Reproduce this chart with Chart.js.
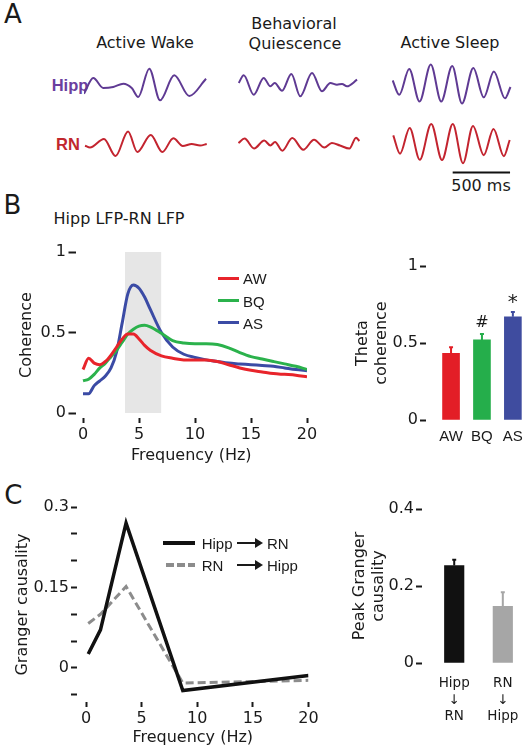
<!DOCTYPE html>
<html>
<head>
<meta charset="utf-8">
<title>Hipp - RN coherence and Granger causality</title>
<script src="https://cdn.jsdelivr.net/npm/chart.js@4.4.1/dist/chart.umd.min.js"></script>
<style>
  html, body { margin: 0; background: #fff; }
  #fig { position: relative; width: 524px; height: 750px; overflow: hidden;
         font-family: "DejaVu Sans", sans-serif; font-size: 16px; color: #1a1a1a; }
  #fig canvas { position: absolute; }
  .c, .l { position: absolute; line-height: 1; white-space: nowrap; }
  .c { transform: translate(-50%, -50%); }
  .l { transform: translate(0, -50%); font-family: "Liberation Sans", Arial, sans-serif; font-size: 15px; }
  .panel { font-size: 26px; }
  .row { font-family: "Liberation Sans", Arial, sans-serif; font-weight: bold; font-size: 16.5px; }
  .key { position: absolute; }
  .arrow { position: absolute; height: 2px; width: 19px; background: #1a1a1a; }
  .arrow::after { content: ""; position: absolute; right: -7px; top: -4px;
                  border-left: 8px solid #1a1a1a; border-top: 5px solid transparent; border-bottom: 5px solid transparent; }
</style>
</head>
<body>
<div id="fig">
  <!-- panel A -->
  <div class="c panel" style="left:13px;top:14px">A</div>
  <div class="c" style="left:145px;top:42.5px">Active Wake</div>
  <div class="c" style="left:294px;top:24px">Behavioral</div>
  <div class="c" style="left:295px;top:44px">Quiescence</div>
  <div class="c" style="left:450px;top:42.5px">Active Sleep</div>
  <div class="c row" style="left:70px;top:85px;color:#6b3f9f">Hipp</div>
  <div class="c row" style="left:68px;top:144px;color:#c1272d">RN</div>
  <div class="c" style="left:481px;top:186px">500 ms</div>

  <canvas id="awHipp" width="130" height="63" style="left:81px;top:56px"></canvas>
  <canvas id="bqHipp" width="130" height="63" style="left:235px;top:56px"></canvas>
  <canvas id="asHipp" width="130" height="63" style="left:389px;top:56px"></canvas>
  <canvas id="awRn" width="130" height="63" style="left:81px;top:116px"></canvas>
  <canvas id="bqRn" width="130" height="63" style="left:235px;top:116px"></canvas>
  <canvas id="asRn" width="130" height="63" style="left:389px;top:116px"></canvas>

  <!-- panel B -->
  <div class="c panel" style="left:12.5px;top:205px">B</div>
  <div class="c" style="left:119px;top:219px">Hipp LFP-RN LFP</div>
  <canvas id="cohLine" width="330" height="235" style="left:0;top:235px"></canvas>
  <canvas id="cohBar" width="184" height="230" style="left:340px;top:240px"></canvas>
  <div class="key" style="left:218px;top:276.8px;width:21px;height:3px;background:#e8242b"></div>
  <div class="key" style="left:218px;top:299.2px;width:21px;height:3px;background:#2bb24c"></div>
  <div class="key" style="left:218px;top:321.2px;width:21px;height:3px;background:#3b4ba5"></div>
  <div class="l" style="left:243px;top:278.3px">AW</div>
  <div class="l" style="left:243px;top:300.7px">BQ</div>
  <div class="l" style="left:243px;top:322.7px">AS</div>

  <!-- panel C -->
  <div class="c panel" style="left:13.3px;top:495px">C</div>
  <canvas id="gcLine" width="330" height="260" style="left:0;top:490px"></canvas>
  <canvas id="gcBar" width="184" height="260" style="left:340px;top:490px"></canvas>
  <div class="key" style="left:163px;top:541px;width:32px;height:4px;background:#111"></div>
  <div class="key" style="left:166px;top:563.3px;width:29px;height:3.5px;
       background:repeating-linear-gradient(90deg,#8c8c8c 0 8px,transparent 8px 11px)"></div>
  <div class="l" style="left:201.7px;top:542.5px">Hipp</div>
  <div class="arrow" style="left:237px;top:542px"></div>
  <div class="l" style="left:267px;top:542.5px">RN</div>
  <div class="l" style="left:201.7px;top:564.5px">RN</div>
  <div class="arrow" style="left:237px;top:564px"></div>
  <div class="l" style="left:267px;top:564.5px">Hipp</div>
</div>

<script>
const ink = '#1a1a1a';
Chart.defaults.font.family = '"DejaVu Sans", sans-serif';
Chart.defaults.font.size = 16;
Chart.defaults.color = ink;

// A: example LFP traces, time (ms) and amplitude (arbitrary units) at the turning points
const awHippT = [0, 81, 168, 255, 343, 416, 473, 569, 663, 787, 918, 1064];
const awHippV = [-9.7, 6, -4, -3, 0.3, -4, -13, 15.3, -16.3, 8.7, -12, 5.3];
const awRnT = [9, 52, 174, 275, 384, 465, 582, 683, 779, 861, 939, 1012, 1070];
const awRnV = [-1.7, -3.5, 5, -12, 12.5, -8, 9, -8, 5.7, -2, 0, -1.5, 0];
const bqHippT = [6, 50, 137, 224, 282, 320, 384, 465, 543, 645, 732, 805, 863, 907, 950, 1038];
const bqHippV = [1, 8.7, -10.7, 6, -2.3, 1, -6.7, 10, -12.3, 11, -7.3, 1, -0.7, 0, -2.3, 4.3];
const bqRnT = [4, 57, 140, 229, 282, 323, 386, 473, 569, 663, 753, 818, 889, 971, 1029, 1058];
const bqRnV = [1, 5.5, -4.5, 3.5, -1.5, 2, -6.7, 6, -5.8, 4.3, -3.5, 1, -1.5, -4.5, 6.3, 3];
const asHippT = [6, 63, 150, 240, 338, 429, 525, 610, 709, 800, 888, 985, 1033];
const asHippV = [3.5, -10.8, 15, -17.5, 19.5, -17.5, 18, -19.5, 16, -13.3, 12.5, -14.3, -3];
const asRnT = [11, 70, 154, 242, 342, 436, 530, 619, 706, 800, 885, 975, 1026];
const asRnV = [8.7, -9.7, 16, -15.8, 20, -16, 20, -19.2, 18, -11.2, 15, -12.2, 4];
const scaleBarStart = 529;   // ms
const scaleBarMs = 500;

// B: coherence spectra and theta coherence
const cohFreq = [0, 0.5, 1, 1.5, 2, 2.5, 3, 3.5, 4, 4.5, 5, 5.5, 6, 7, 8, 9, 10, 11, 12, 13, 14, 15, 16, 17, 18, 19, 20];
const cohAW = [0.27, 0.34, 0.31, 0.30, 0.32, 0.36, 0.41, 0.46, 0.49, 0.49, 0.46, 0.42, 0.39, 0.355, 0.34, 0.33, 0.33, 0.33, 0.32, 0.30, 0.28, 0.265, 0.255, 0.245, 0.24, 0.235, 0.225];
const cohBQ = [0.20, 0.21, 0.24, 0.28, 0.31, 0.35, 0.39, 0.44, 0.49, 0.52, 0.54, 0.545, 0.535, 0.495, 0.45, 0.435, 0.43, 0.43, 0.425, 0.405, 0.375, 0.35, 0.335, 0.32, 0.305, 0.29, 0.27];
const cohAS = [0.12, 0.12, 0.17, 0.20, 0.23, 0.28, 0.38, 0.56, 0.74, 0.795, 0.775, 0.72, 0.645, 0.50, 0.41, 0.365, 0.345, 0.33, 0.32, 0.31, 0.305, 0.30, 0.295, 0.29, 0.28, 0.27, 0.263];
const thetaBand = [3.75, 7];
const freqTicks = [0, 5, 10, 15, 20];
const freqLabels = ['0', '5', '10', '15', '20'];
const cohTicks = [0, 0.5, 1];
const cohLabels = ['0', '0.5', '1'];

const thetaStates = ['AW', 'BQ', 'AS'];
const thetaCoh = [0.433, 0.52, 0.67];
const thetaErr = [0.04, 0.038, 0.032];
const thetaSig = ['', '#', '*'];

// C: Granger causality spectra and peaks
const grangerFreq = [0.2, 1.3, 3.6, 8.7, 20];
const hippToRn = [0.026, 0.071, 0.27, -0.042, -0.014];
const rnToHipp = [0.083, 0.1, 0.152, -0.028, -0.023];
const gcTicks = [-0.05, 0, 0.05, 0.1, 0.15, 0.2, 0.25, 0.3];
const gcLabels = ['', '0', '', '', '0.15', '', '', '0.3'];

const grangerCats = [['Hipp', '↓', 'RN'], ['RN', '↓', 'Hipp']];
const grangerPeak = [0.253, 0.147];
const grangerErr = [0.015, 0.037];
const peakTicks = [0, 0.2, 0.4];
const peakLabels = ['0', '0.2', '0.4'];

const hippColor = '#5f3a93';
const rnColor = '#c3242f';
const stateColors = ['#e31e26', '#25ae4b', '#3f4c9f'];
const catFont = { family: '"Liberation Sans", Arial, sans-serif', size: 15 };

const xy = (xs, ys) => xs.map((x, i) => ({ x: x, y: ys[i] }));

const base = {
  responsive: false,
  animation: false,
  events: [],
  plugins: { legend: { display: false }, tooltip: { enabled: false } }
};

function leftAxis(o) {
  return {
    min: o.min, max: o.max,
    afterFit: s => { s.width = o.width; },
    afterBuildTicks: s => { s.ticks = o.ticks.map(v => ({ value: v })); },
    ticks: { autoSkip: false, padding: o.pad, callback: (v, i) => o.labels[i] },
    grid: { drawOnChartArea: false, tickLength: o.tick, tickWidth: 2, tickColor: ink },
    border: { display: false },
    title: { display: true, text: o.title, padding: { top: o.titlePad, bottom: 0 } }
  };
}

// o.tick: visible tick marks; o.gap: invisible spacer between plot and labels
function bottomAxis(o) {
  return {
    type: 'linear', min: o.min, max: o.max, offset: false,
    afterFit: s => { s.height = o.height; },
    afterBuildTicks: s => { s.ticks = o.ticks.map(v => ({ value: v })); },
    ticks: { autoSkip: false, maxRotation: 0, padding: o.pad || 0, callback: (v, i) => o.labels[i], font: o.font },
    grid: { drawOnChartArea: false, offset: false, tickLength: o.tick || o.gap, tickWidth: 2,
            tickColor: o.tick ? ink : 'rgba(0,0,0,0)' },
    border: { display: false },
    title: o.title ? { display: true, text: o.title, padding: { top: 0, bottom: o.titlePad } } : { display: false }
  };
}

// error stems (and significance marks) on top of the bars
const errorBars = {
  id: 'errorBars',
  afterDatasetsDraw(chart, args, opts) {
    const ds = chart.data.datasets[0];
    const y = chart.scales.y;
    const ctx = chart.ctx;
    ctx.save();
    chart.getDatasetMeta(0).data.forEach((bar, i) => {
      const top = y.getPixelForValue(ds.data[i].y + opts.err[i]);
      ctx.strokeStyle = ds.backgroundColor[i];
      ctx.lineWidth = 2;
      ctx.beginPath();
      ctx.moveTo(bar.x, bar.y);
      ctx.lineTo(bar.x, top);
      ctx.moveTo(bar.x - 2, top);
      ctx.lineTo(bar.x + 2, top);
      ctx.stroke();
      if (opts.sig && opts.sig[i]) {
        const star = opts.sig[i] === '*';
        ctx.fillStyle = ink;
        ctx.font = (star ? '20px' : '16px') + ' "DejaVu Sans"';
        ctx.textAlign = 'center';
        ctx.textBaseline = 'alphabetic';
        ctx.fillText(opts.sig[i], bar.x, top - (star ? 4 : 7));
      }
    });
    ctx.restore();
  }
};

function trace(id, t, v, color, extra) {
  const datasets = [{
    data: xy(t, v), borderColor: color, borderWidth: 2, pointRadius: 0,
    cubicInterpolationMode: 'monotone', fill: false
  }];
  if (extra) datasets.push(extra);
  new Chart(document.getElementById(id), {
    type: 'line',
    data: { datasets: datasets },
    options: {
      ...base,
      layout: { padding: 3 },
      scales: {
        x: { type: 'linear', display: false, min: 0, max: 1081 },
        y: { display: false, min: -32, max: 25 }
      }
    }
  });
}

trace('awHipp', awHippT, awHippV, hippColor);
trace('bqHipp', bqHippT, bqHippV, hippColor);
trace('asHipp', asHippT, asHippV, hippColor);
trace('awRn', awRnT, awRnV, rnColor);
trace('bqRn', bqRnT, bqRnV, rnColor);
trace('asRn', asRnT, asRnV, rnColor, {
  data: [{ x: scaleBarStart, y: -28.5 }, { x: scaleBarStart + scaleBarMs, y: -28.5 }],
  borderColor: '#111', borderWidth: 2, pointRadius: 0
});

// B left: coherence vs frequency
const curve = (ys, color) => ({
  data: xy(cohFreq, ys), borderColor: color, borderWidth: 3, pointRadius: 0,
  cubicInterpolationMode: 'monotone', fill: false
});
new Chart(document.getElementById('cohLine'), {
  type: 'line',
  data: {
    datasets: [
      curve(cohAW, '#e8242b'),
      curve(cohBQ, '#2bb24c'),
      curve(cohAS, '#3b4ba5'),
      {
        data: [{ x: thetaBand[0], y: 1 }, { x: thetaBand[1], y: 1 }],
        fill: { value: 0 }, backgroundColor: '#e6e6e6',
        borderColor: 'rgba(0,0,0,0)', borderWidth: 0, pointRadius: 0, order: 5
      }
    ]
  },
  options: {
    ...base,
    layout: { padding: { top: 17, right: 23, left: 0, bottom: 0 } },
    scales: {
      x: bottomAxis({ min: -0.67, max: 20, height: 52, ticks: freqTicks, labels: freqLabels,
                      tick: 5, pad: 2, title: 'Frequency (Hz)', titlePad: 4.9 }),
      y: leftAxis({ min: -0.031, max: 1, width: 75.5, ticks: cohTicks, labels: cohLabels,
                    tick: 7, pad: 2.5, title: 'Coherence', titlePad: 17.4 })
    }
  }
});

// B right: theta coherence bars
new Chart(document.getElementById('cohBar'), {
  type: 'bar',
  data: {
    datasets: [{
      data: thetaCoh.map((v, i) => ({ x: i + 1, y: v })),
      backgroundColor: stateColors, barThickness: 17
    }]
  },
  options: {
    ...base,
    plugins: { ...base.plugins, errorBars: { err: thetaErr, sig: thetaSig } },
    layout: { padding: { top: 26, right: 0, left: 0, bottom: 0 } },
    scales: {
      x: bottomAxis({ min: 0.19, max: 3.36, height: 50, ticks: [1, 2, 3], labels: thetaStates,
                      gap: 8, font: catFont }),
      y: leftAxis({ min: 0, max: 1, width: 86, ticks: cohTicks, labels: cohLabels,
                    tick: 6, pad: 2, title: ['Theta', 'coherence'], titlePad: 13.4 })
    }
  },
  plugins: [errorBars]
});

// C left: Granger causality spectra
new Chart(document.getElementById('gcLine'), {
  type: 'line',
  data: {
    datasets: [
      { data: xy(grangerFreq, hippToRn), borderColor: '#111', borderWidth: 3.5, pointRadius: 0, fill: false },
      { data: xy(grangerFreq, rnToHipp), borderColor: '#8c8c8c', borderWidth: 3, borderDash: [8, 4],
        pointRadius: 0, fill: false }
    ]
  },
  options: {
    ...base,
    layout: { padding: { top: 17, right: 21.5, left: 0, bottom: 0 } },
    scales: {
      x: bottomAxis({ min: -0.81, max: 20, height: 48, ticks: freqTicks, labels: freqLabels,
                      tick: 5, pad: 2, title: 'Frequency (Hz)', titlePad: 2.4 }),
      y: leftAxis({ min: -0.0634, max: 0.3, width: 77, ticks: gcTicks, labels: gcLabels,
                    tick: 6, pad: 2, title: 'Granger causality', titlePad: 12.9 })
    }
  }
});

// C right: peak Granger causality bars
new Chart(document.getElementById('gcBar'), {
  type: 'bar',
  data: {
    datasets: [{
      data: grangerPeak.map((v, i) => ({ x: i + 1, y: v })),
      backgroundColor: ['#111111', '#a6a6a6'], barThickness: 19.5
    }]
  },
  options: {
    ...base,
    plugins: { ...base.plugins, errorBars: { err: grangerErr } },
    layout: { padding: { top: 19, right: 0, left: 0, bottom: 0 } },
    scales: {
      x: bottomAxis({ min: 0.337, max: 2.436, height: 87, ticks: [1, 2], labels: grangerCats,
                      gap: 12.4, font: { size: 13.5, lineHeight: 1.22 } }),
      y: leftAxis({ min: 0, max: 0.4, width: 82, ticks: peakTicks, labels: peakLabels,
                    tick: 6, pad: 2, title: ['Peak Granger', 'causality'], titlePad: 10.4 })
    }
  },
  plugins: [errorBars]
});
</script>
</body>
</html>
